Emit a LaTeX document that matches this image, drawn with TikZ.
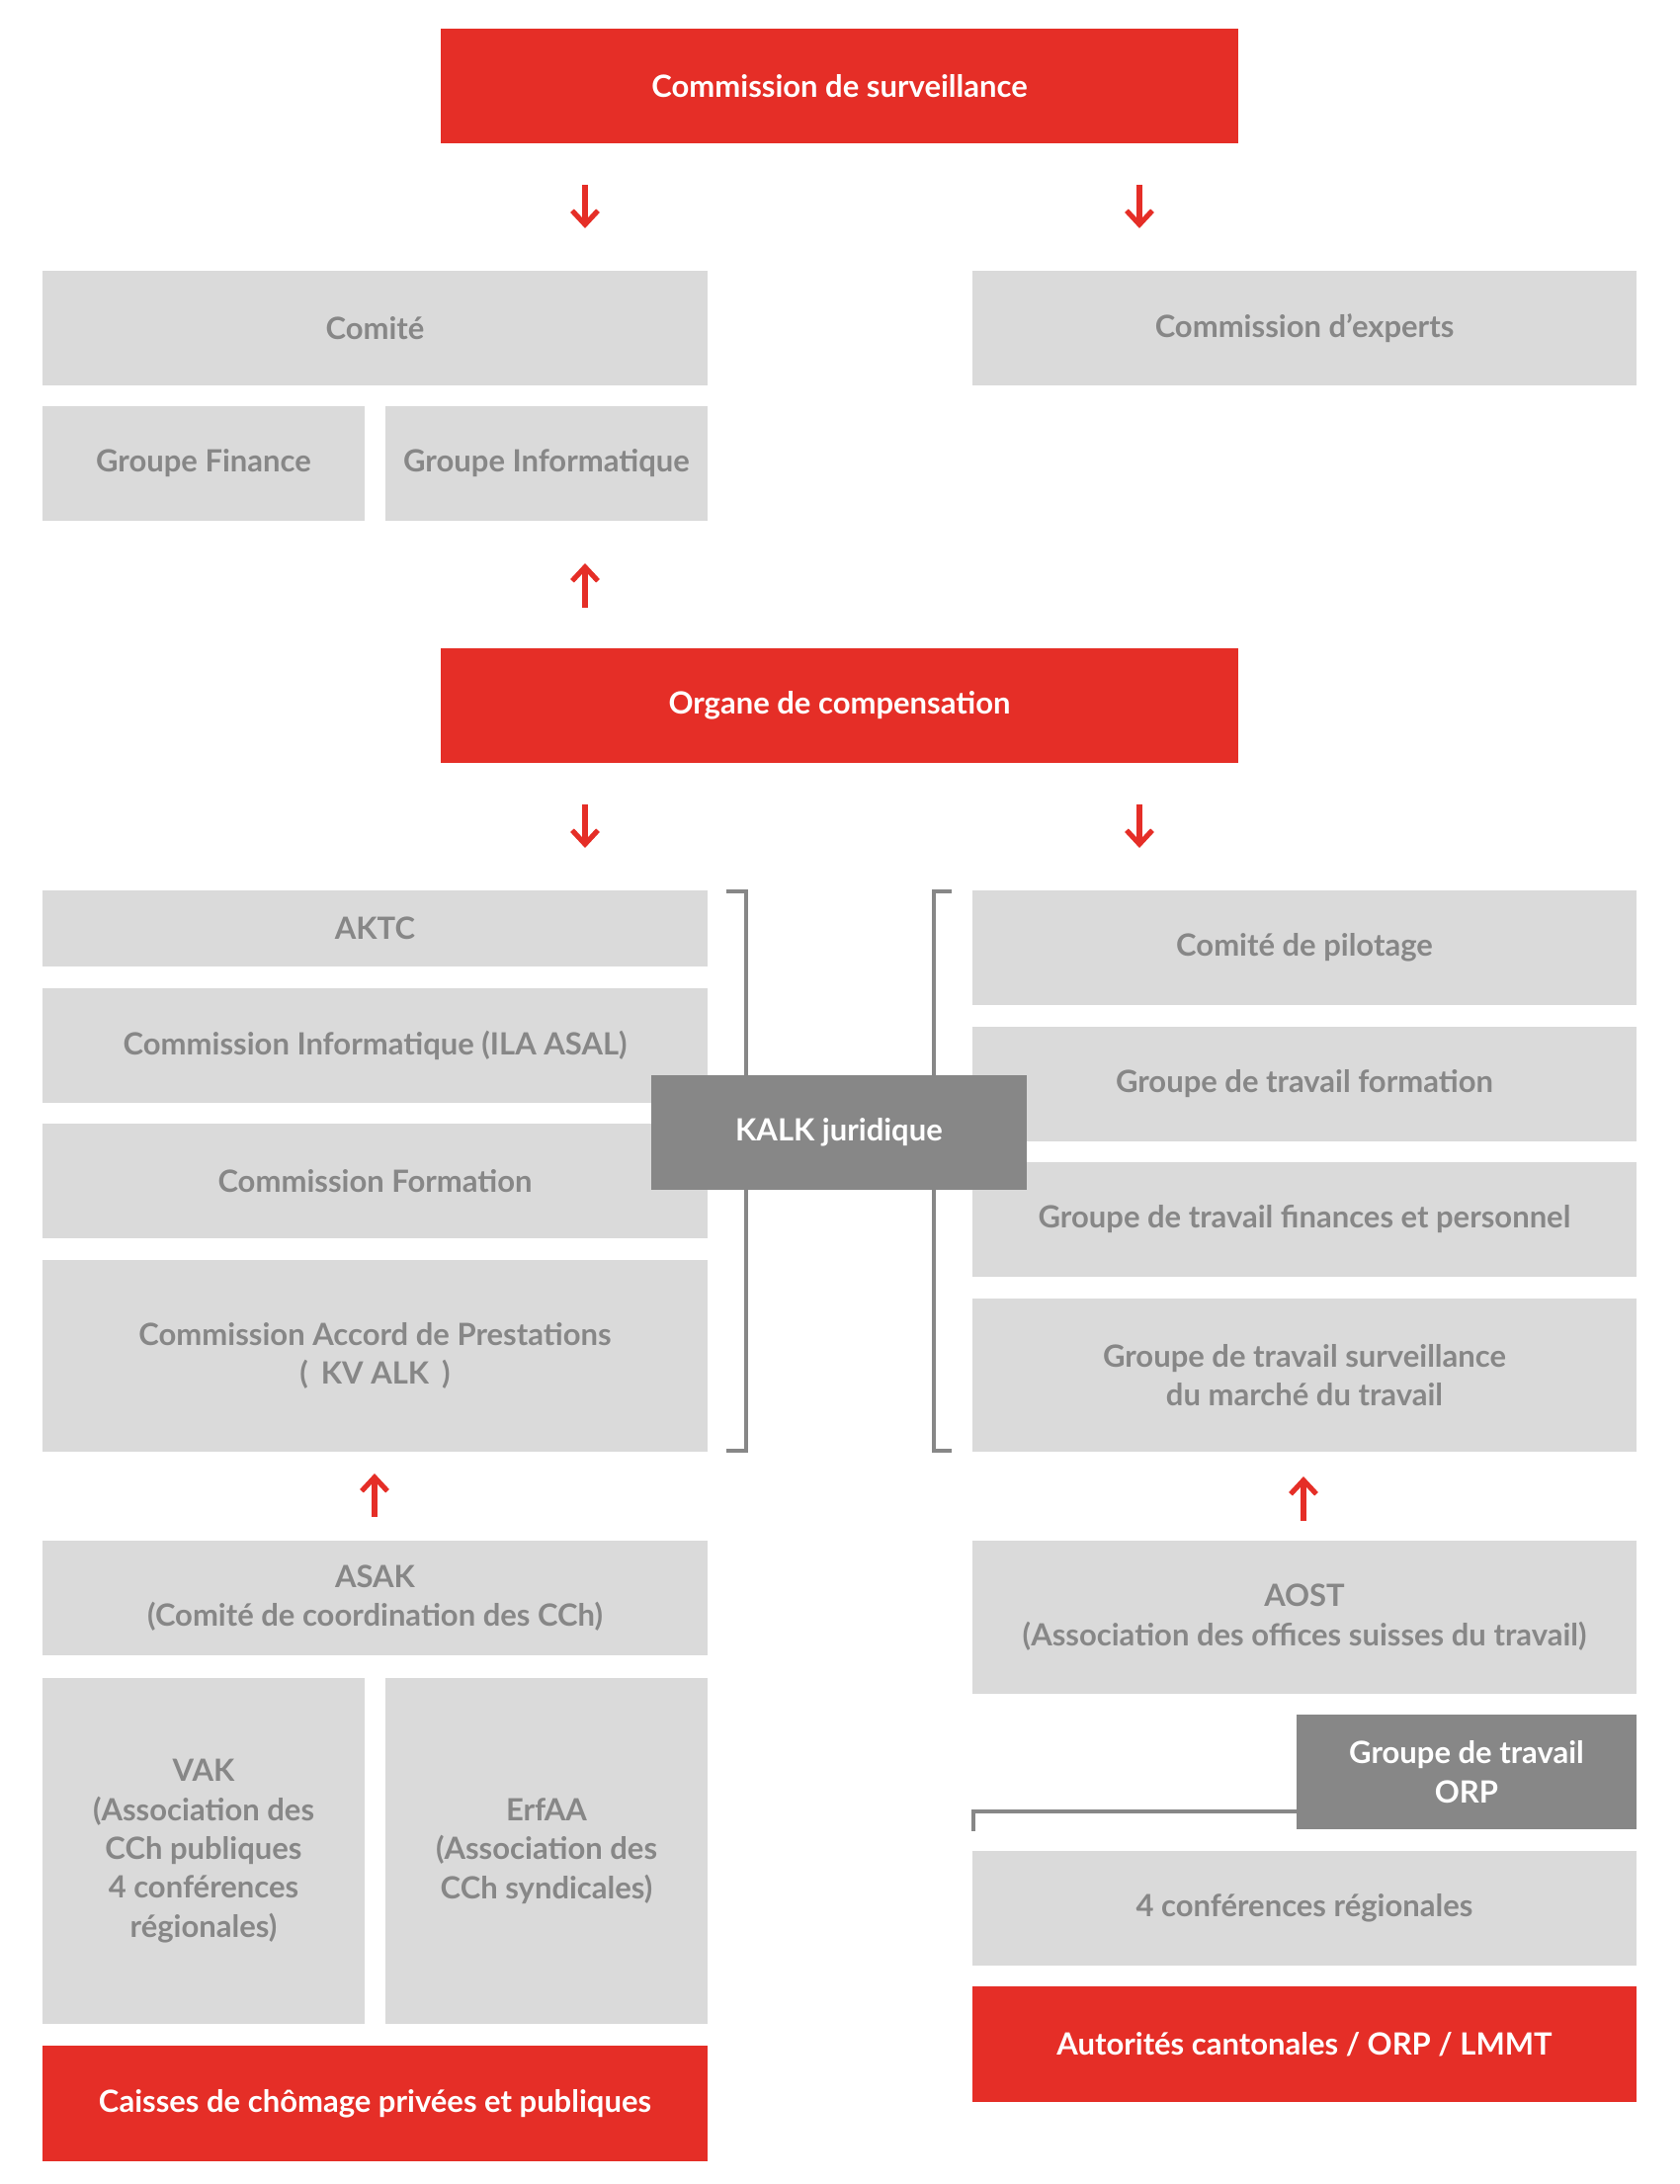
\documentclass[tikz,border=0pt]{standalone}
\usepackage{fontspec}
\setmainfont{Lato}
\usetikzlibrary{arrows.meta}
\definecolor{cred}{RGB}{229,46,39}
\definecolor{cbox}{RGB}{218,218,218}
\definecolor{ctxt}{RGB}{135,135,135}
\definecolor{cdark}{RGB}{135,135,135}
\tikzset{
  base/.style={inner sep=0pt, outer sep=0pt, align=center,
    font=\bfseries\fontsize{15.5pt}{19.7pt}\selectfont},
  greybox/.style={base, fill=cbox, text=ctxt},
  redbox/.style={base, fill=cred, text=white},
  darkbox/.style={base, fill=cdark, text=white},
  redarrow/.style={draw=cred, line width=2.6pt,
    -{Straight Barb[length=7pt,width=13pt,line width=2.6pt]}},
  bracketline/.style={draw=ctxt, line width=1.8pt, line join=miter, line cap=rect},
}
% name, style, x1, y1, x2, y2, text (pixel coordinates, y downwards)
\newcommand\mkbox[7]{%
  \node[#2, minimum width={(#5-#3)*0.5pt}, minimum height={(#6-#4)*0.5pt}]
    (#1) at ({(#3+#5)/2},{(#4+#6)/2}) {#7};}
\begin{document}
\begin{tikzpicture}[x=0.5pt,y=-0.5pt]
\useasboundingbox (0,0) rectangle (1700,2210);
% top
\mkbox{cs}{redbox}{446}{29}{1253}{145}{Commission de surveillance}
\mkbox{comite}{greybox}{43}{274}{716}{390}{Comité}
\mkbox{experts}{greybox}{984}{274}{1656}{390}{Commission d’experts}
\mkbox{gfin}{greybox}{43}{411}{369}{527}{Groupe Finance}
\mkbox{ginf}{greybox}{390}{411}{716}{527}{Groupe Informatique}
\mkbox{organe}{redbox}{446}{656}{1253}{772}{Organe de compensation}
% middle left
\mkbox{aktc}{greybox}{43}{901}{716}{978}{AKTC}
\mkbox{cinf}{greybox}{43}{1000}{716}{1116}{Commission Informatique (ILA ASAL)}
\mkbox{cform}{greybox}{43}{1137}{716}{1253}{Commission Formation}
\mkbox{cacc}{greybox}{43}{1275}{716}{1469}{Commission Accord de Prestations\\(\hspace{0.42em}KV ALK\hspace{0.42em})}
% middle right
\mkbox{pilot}{greybox}{984}{901}{1656}{1017}{Comité de pilotage}
\mkbox{gtform}{greybox}{984}{1039}{1656}{1155}{Groupe de travail formation}
\mkbox{gtfin}{greybox}{984}{1176}{1656}{1292}{Groupe de travail finances et personnel}
\mkbox{gtsurv}{greybox}{984}{1314}{1656}{1469}{Groupe de travail surveillance\\du marché du travail}
% brackets
\coordinate (blt) at (737,902);
\coordinate (blb) at (737,1468);
\coordinate (brt) at (961,902);
\coordinate (brb) at (961,1468);
\draw[bracketline] (blt) -- (755,902) -- (755,1468) -- (blb);
\draw[bracketline] (brt) -- (945,902) -- (945,1468) -- (brb);
\mkbox{kalk}{darkbox}{659}{1088}{1039}{1204}{KALK juridique}
% bottom left
\mkbox{asak}{greybox}{43}{1559}{716}{1675}{ASAK\\(Comité de coordination des CCh)}
\mkbox{vak}{greybox}{43}{1698}{369}{2048}{VAK\\(Association des\\CCh publiques\\4 conférences\\régionales)}
\mkbox{erfaa}{greybox}{390}{1698}{716}{2048}{ErfAA\\(Association des\\CCh syndicales)}
\mkbox{caisses}{redbox}{43}{2070}{716}{2187}{Caisses de chômage privées et publiques}
% bottom right
\mkbox{aost}{greybox}{984}{1559}{1656}{1714}{AOST\\(Association des offices suisses du travail)}
\coordinate (orpa) at (1312,1833);
\coordinate (orpb) at (985,1851);
\draw[bracketline] (orpa) -- (985,1833) -- (orpb);
\mkbox{orp}{darkbox}{1312}{1735}{1656}{1851}{Groupe de travail\\ORP}
\mkbox{conf}{greybox}{984}{1873}{1656}{1989}{4 conférences régionales}
\mkbox{auto}{redbox}{984}{2010}{1656}{2127}{Autorités cantonales / ORP / LMMT}
% arrows
\coordinate (a1s) at (592,187); \coordinate (a1e) at (592,231);
\coordinate (a2s) at (1153,187); \coordinate (a2e) at (1153,231);
\coordinate (a3s) at (592,615); \coordinate (a3e) at (592,570);
\coordinate (a4s) at (592,814); \coordinate (a4e) at (592,858);
\coordinate (a5s) at (1153,814); \coordinate (a5e) at (1153,858);
\coordinate (a6s) at (379,1535); \coordinate (a6e) at (379,1491);
\coordinate (a7s) at (1319,1539); \coordinate (a7e) at (1319,1494);
\foreach \s/\e in {a1s/a1e,a2s/a2e,a3s/a3e,a4s/a4e,a5s/a5e,a6s/a6e,a7s/a7e}
  \draw[redarrow] (\s) -- (\e);
\end{tikzpicture}
\end{document}
